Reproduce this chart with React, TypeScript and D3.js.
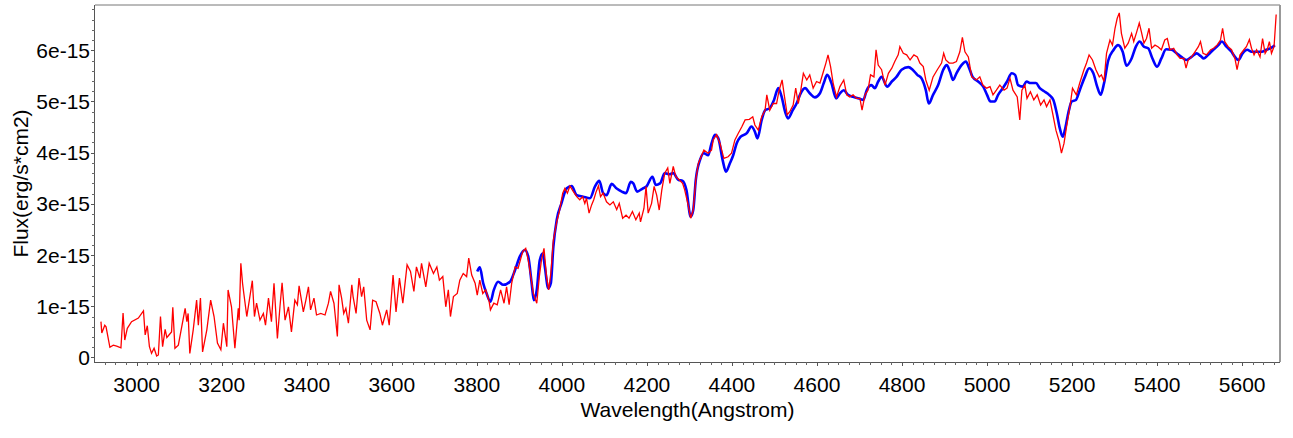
import * as d3 from 'd3'

// wavelength (Angstrom) and flux (in units of 1e-15 erg/s/cm2)
const observed: [number, number][] = [
  [2916,0.70],[2918,0.48],[2925,0.63],[2928,0.60],[2937,0.20],[2945,0.24],[2953,0.22],[2963,0.19],[2968,0.87],[2972,0.34],
  [2978,0.57],[2988,0.70],[3004,0.77],[3016,0.91],[3020,0.44],[3025,0.62],[3030,0.21],[3035,0.08],[3041,0.18],[3047,0.03],
  [3051,0.05],[3056,0.80],[3061,0.21],[3067,0.55],[3071,0.39],[3082,0.50],[3085,0.98],[3090,0.18],[3098,0.24],[3114,0.96],
  [3118,0.70],[3121,0.86],[3125,0.08],[3133,0.54],[3141,1.12],[3145,0.63],[3150,1.16],[3155,0.11],[3165,0.54],[3174,1.12],
  [3182,0.80],[3190,0.28],[3198,0.15],[3204,0.67],[3208,0.44],[3212,0.21],[3215,1.32],[3223,0.99],[3231,0.18],[3239,0.96],
  [3241,0.73],[3245,1.84],[3249,1.45],[3252,1.25],[3259,0.80],[3265,1.12],[3272,1.50],[3277,0.80],[3282,1.06],[3290,0.73],
  [3298,0.86],[3303,0.63],[3310,1.16],[3317,0.70],[3323,1.45],[3331,0.37],[3337,0.99],[3342,1.46],[3349,0.73],[3357,0.99],
  [3364,0.50],[3372,1.12],[3378,1.03],[3382,1.40],[3392,0.89],[3398,1.12],[3404,1.38],[3409,0.93],[3417,1.16],[3423,0.83],
  [3433,0.86],[3443,0.83],[3451,1.06],[3456,1.29],[3464,1.06],[3472,0.41],[3476,1.42],[3482,1.16],[3487,0.86],[3492,0.96],
  [3498,0.67],[3506,1.42],[3509,1.19],[3516,0.86],[3523,1.55],[3529,1.19],[3534,1.38],[3541,0.73],[3549,0.54],[3555,1.12],
  [3563,1.09],[3572,0.86],[3578,0.63],[3588,0.93],[3594,0.63],[3603,1.61],[3610,0.89],[3618,1.55],[3626,1.06],[3636,1.81],
  [3644,1.68],[3652,1.29],[3658,1.77],[3666,1.55],[3670,1.84],[3680,1.38],[3688,1.84],[3698,1.64],[3706,1.77],[3712,1.51],
  [3720,1.58],[3727,0.99],[3733,1.32],[3738,0.80],[3745,1.19],[3754,1.25],[3760,1.51],[3768,1.64],[3776,1.58],[3781,1.94],
  [3788,1.61],[3796,1.45],[3801,1.22],[3807,1.51],[3814,1.25],[3821,1.32],[3829,1.09],[3832,0.93],[3840,1.06],[3848,1.03],
  [3856,1.32],[3864,1.06],[3870,1.38],[3876,1.03],[3882,1.45],[3890,1.77],[3897,1.74],[3908,2.07],[3915,2.13],[3921,1.90],
  [3927,1.58],[3933,1.25],[3941,1.06],[3947,1.58],[3952,1.90],[3958,2.13],[3964,1.58],[3969,1.32],[3974,1.64],[3980,2.29],
  [3988,2.65],[3994,2.85],[4002,3.21],[4007,3.30],[4013,3.21],[4019,3.35],[4027,3.24],[4035,3.14],[4042,3.08],[4049,3.14],
  [4054,3.01],[4058,3.11],[4064,2.82],[4070,2.98],[4075,3.08],[4080,3.22],[4086,3.35],[4091,3.14],[4097,3.21],[4105,3.04],
  [4113,2.98],[4121,3.04],[4129,2.89],[4135,3.01],[4143,2.72],[4151,2.78],[4158,2.72],[4166,2.85],[4174,2.69],[4182,2.82],
  [4185,2.65],[4193,2.91],[4198,3.34],[4203,2.82],[4211,3.01],[4217,3.34],[4223,3.17],[4229,2.88],[4235,3.27],[4242,3.60],
  [4249,3.70],[4254,3.40],[4262,3.73],[4268,3.53],[4276,3.47],[4284,3.40],[4289,3.27],[4297,2.98],[4303,2.72],[4309,2.88],
  [4315,3.47],[4321,3.79],[4329,3.95],[4334,4.05],[4344,3.99],[4352,4.05],[4356,4.25],[4364,4.35],[4372,4.18],[4381,3.89],
  [4391,3.92],[4399,3.99],[4407,4.25],[4415,4.38],[4423,4.50],[4431,4.64],[4441,4.65],[4449,4.70],[4454,4.54],[4462,4.44],
  [4470,4.70],[4478,4.83],[4482,5.13],[4489,4.83],[4497,4.96],[4505,4.96],[4511,5.22],[4518,5.42],[4523,5.13],[4530,4.74],
  [4536,4.80],[4544,4.93],[4550,5.26],[4556,4.96],[4562,5.22],[4568,5.55],[4576,5.42],[4583,5.52],[4591,5.26],[4599,5.39],
  [4607,5.36],[4615,5.58],[4621,5.75],[4626,5.91],[4632,5.68],[4638,5.36],[4646,5.09],[4654,5.29],[4663,5.42],[4670,5.13],
  [4677,5.09],[4685,5.13],[4693,5.06],[4701,5.06],[4706,4.83],[4713,5.13],[4720,5.22],[4726,5.52],[4734,5.48],[4739,6.01],
  [4744,5.71],[4752,5.62],[4760,5.32],[4768,5.55],[4776,5.65],[4783,5.78],[4791,5.91],[4795,6.07],[4803,5.94],[4811,5.91],
  [4819,5.81],[4828,5.91],[4836,5.87],[4842,5.75],[4850,5.68],[4856,5.42],[4864,5.22],[4873,5.48],[4883,5.62],[4893,5.75],
  [4898,5.94],[4903,5.81],[4911,5.75],[4920,5.75],[4928,5.78],[4936,5.97],[4942,6.25],[4948,5.97],[4956,5.87],[4964,5.48],
  [4975,5.42],[4983,5.48],[4990,5.32],[4999,5.26],[5007,5.29],[5014,5.13],[5022,5.22],[5030,5.32],[5040,5.22],[5047,5.26],
  [5054,5.45],[5061,5.22],[5071,5.09],[5077,4.64],[5082,5.22],[5089,5.32],[5094,5.06],[5102,5.19],[5110,5.03],[5118,5.13],
  [5126,4.93],[5134,5.03],[5140,4.90],[5148,5.03],[5155,4.74],[5162,4.44],[5170,4.21],[5175,3.99],[5181,4.18],[5187,4.51],
  [5195,4.90],[5201,5.26],[5210,5.13],[5218,5.36],[5228,5.62],[5234,5.75],[5240,5.91],[5248,5.81],[5256,5.62],[5264,5.48],
  [5269,5.52],[5275,5.39],[5281,5.94],[5289,6.20],[5295,6.10],[5301,6.43],[5306,6.62],[5311,6.73],[5316,6.33],[5324,6.04],
  [5332,6.14],[5340,6.33],[5345,6.17],[5352,6.36],[5358,6.53],[5363,6.36],[5369,6.14],[5375,6.23],[5381,6.43],[5387,6.04],
  [5395,6.10],[5402,6.07],[5410,6.01],[5418,6.20],[5424,6.23],[5430,6.01],[5439,6.04],[5447,5.91],[5454,5.84],[5463,5.84],
  [5468,5.65],[5473,5.81],[5481,5.87],[5489,5.97],[5497,6.07],[5502,6.17],[5508,5.94],[5516,5.91],[5526,6.01],[5533,6.04],
  [5541,6.10],[5549,6.20],[5554,6.43],[5559,6.17],[5567,6.07],[5575,6.01],[5583,5.84],[5588,5.62],[5595,5.91],[5604,6.01],
  [5610,6.07],[5617,6.21],[5622,6.04],[5628,5.91],[5634,6.01],[5642,5.87],[5648,6.23],[5654,5.94],[5659,6.01],[5664,6.17],
  [5669,5.94],[5675,6.07],[5680,6.70],
]

const model: [number, number][] = [
  [3801,1.68],[3807,1.76],[3815,1.45],[3823,1.25],[3832,1.09],[3840,1.32],[3850,1.48],[3862,1.42],[3878,1.48],[3890,1.71],
  [3901,1.97],[3913,2.10],[3921,1.97],[3929,1.45],[3934,1.12],[3941,1.32],[3948,1.90],[3955,2.03],[3960,1.77],[3968,1.35],
  [3974,1.45],[3980,2.16],[3988,2.69],[3999,3.01],[4011,3.30],[4023,3.35],[4035,3.17],[4050,3.14],[4066,3.11],[4078,3.34],
  [4088,3.45],[4097,3.21],[4105,3.17],[4117,3.39],[4129,3.30],[4141,3.24],[4151,3.21],[4162,3.43],[4168,3.40],[4177,3.24],
  [4190,3.30],[4199,3.34],[4213,3.53],[4221,3.37],[4231,3.40],[4242,3.60],[4253,3.58],[4262,3.60],[4274,3.47],[4284,3.45],
  [4293,3.27],[4303,2.75],[4309,2.88],[4315,3.47],[4325,3.86],[4334,3.99],[4344,3.95],[4352,4.18],[4360,4.35],[4368,4.28],
  [4378,3.86],[4386,3.63],[4395,3.79],[4403,3.95],[4411,4.18],[4420,4.31],[4435,4.38],[4446,4.51],[4454,4.41],[4460,4.28],
  [4470,4.64],[4478,4.83],[4489,4.87],[4499,5.03],[4509,5.26],[4517,5.09],[4525,4.80],[4532,4.67],[4543,4.83],[4552,4.96],
  [4560,5.13],[4572,5.26],[4583,5.16],[4595,5.08],[4607,5.16],[4616,5.36],[4624,5.52],[4634,5.36],[4645,5.06],[4654,5.16],
  [4663,5.22],[4673,5.13],[4685,5.09],[4699,5.06],[4709,5.03],[4717,5.22],[4728,5.32],[4736,5.26],[4744,5.39],[4752,5.48],
  [4765,5.29],[4776,5.39],[4787,5.48],[4799,5.62],[4815,5.67],[4825,5.62],[4836,5.52],[4846,5.45],[4856,5.22],[4863,4.96],
  [4873,5.13],[4885,5.32],[4897,5.62],[4905,5.71],[4913,5.58],[4920,5.42],[4928,5.55],[4940,5.71],[4950,5.78],[4958,5.65],
  [4966,5.48],[4979,5.39],[4991,5.29],[5000,5.13],[5008,5.00],[5018,5.00],[5026,5.13],[5037,5.26],[5047,5.39],[5058,5.55],
  [5066,5.52],[5073,5.32],[5084,5.29],[5093,5.39],[5102,5.36],[5115,5.36],[5124,5.26],[5136,5.19],[5146,5.13],[5156,5.03],
  [5164,4.77],[5171,4.48],[5178,4.31],[5183,4.44],[5191,4.77],[5199,5.00],[5209,5.03],[5218,5.22],[5230,5.48],[5240,5.65],
  [5250,5.55],[5259,5.29],[5267,5.13],[5275,5.35],[5285,5.80],[5297,6.00],[5308,6.10],[5319,5.97],[5328,5.70],[5340,5.84],
  [5350,6.07],[5359,6.17],[5369,6.07],[5379,6.04],[5389,5.84],[5400,5.68],[5410,5.84],[5421,6.02],[5434,6.01],[5446,5.94],
  [5457,5.87],[5469,5.81],[5481,5.87],[5493,5.94],[5502,5.89],[5510,5.84],[5520,5.91],[5532,6.01],[5544,6.10],[5552,6.17],
  [5563,6.07],[5575,5.97],[5583,5.87],[5591,5.81],[5601,5.94],[5612,6.01],[5622,5.97],[5634,5.97],[5646,5.97],[5657,6.01],
  [5667,6.04],[5677,6.10],
]

const xTicks = [3000, 3200, 3400, 3600, 3800, 4000, 4200, 4400, 4600, 4800, 5000, 5200, 5400, 5600]
const yTicks = [0, 1, 2, 3, 4, 5, 6]
const yTickLabels = ['0', '1e-15', '2e-15', '3e-15', '4e-15', '5e-15', '6e-15']

const W = 1293
const H = 438
const left = 95
const right = 1280
const top = 5
const bottom = 362
const FONT = '"Liberation Sans", Arial, sans-serif'

export default function App() {
  const x = d3.scaleLinear().domain([2902, 5689]).range([left, right])
  const y = d3.scaleLinear().domain([-0.088, 6.884]).range([bottom, top])

  const line = d3.line<[number, number]>()
    .x(d => x(d[0]))
    .y(d => y(d[1]))
  const smooth = d3.line<[number, number]>()
    .x(d => x(d[0]))
    .y(d => y(d[1]))
    .curve(d3.curveMonotoneX)

  const xMinor = d3.range(2925, 5689, 25)
  const yMinor = d3.range(0, 6.85, 0.2)

  return (
    <svg width={W} height={H} style={{ position: 'absolute', left: 0, top: 0, display: 'block' }}
      fontFamily={FONT}>
      <rect width={W} height={H} fill="#fff" />
      <defs>
        <clipPath id="plot">
          <rect x={left} y={top} width={right - left} height={bottom - top} />
        </clipPath>
      </defs>

      {/* frame */}
      <line x1={left} x2={right} y1={top} y2={top} stroke="#777" />
      <line x1={right} x2={right} y1={top} y2={bottom} stroke="#999" strokeWidth={2} />

      <g clipPath="url(#plot)">
        <path d={smooth(model) ?? ''} fill="none" stroke="#0000ff" strokeWidth={2.6} />
        <path d={line(observed) ?? ''} fill="none" stroke="#ff0000" strokeWidth={1.3} />
      </g>

      {/* x axis */}
      <line x1={left} x2={right} y1={bottom + 0.5} y2={bottom + 0.5} stroke="#555" />
      {xMinor.map(v => (
        <line key={'xm' + v} x1={Math.round(x(v)) + 0.5} x2={Math.round(x(v)) + 0.5}
          y1={bottom} y2={bottom + 3} stroke="#666" />
      ))}
      {xTicks.map(v => (
        <g key={'x' + v}>
          <line x1={Math.round(x(v)) + 0.5} x2={Math.round(x(v)) + 0.5} y1={bottom} y2={bottom + 4} stroke="#555" />
          <text x={x(v)} y={392} textAnchor="middle" fontSize={21} fill="#000">{v}</text>
        </g>
      ))}

      {/* y axis */}
      <line x1={left - 0.5} x2={left - 0.5} y1={top} y2={bottom + 1} stroke="#555" />
      {yMinor.map(v => (
        <line key={'ym' + v.toFixed(1)} x1={left - 3} x2={left} y1={Math.round(y(v)) + 0.5}
          y2={Math.round(y(v)) + 0.5} stroke="#666" />
      ))}
      {yTicks.map((v, i) => (
        <g key={'y' + v}>
          <line x1={left - 4} x2={left} y1={Math.round(y(v)) + 0.5} y2={Math.round(y(v)) + 0.5} stroke="#555" />
          <text x={left - 5} y={y(v)} dy="0.36em" textAnchor="end" fontSize={21} fill="#000">{yTickLabels[i]}</text>
        </g>
      ))}

      <text x={(left + right) / 2} y={417} textAnchor="middle" fontSize={21} fill="#000">Wavelength(Angstrom)</text>
      <text transform={`translate(28, ${(top + bottom) / 2}) rotate(-90)`} textAnchor="middle" fontSize={21}
        fill="#000">Flux(erg/s*cm2)</text>
    </svg>
  )
}
